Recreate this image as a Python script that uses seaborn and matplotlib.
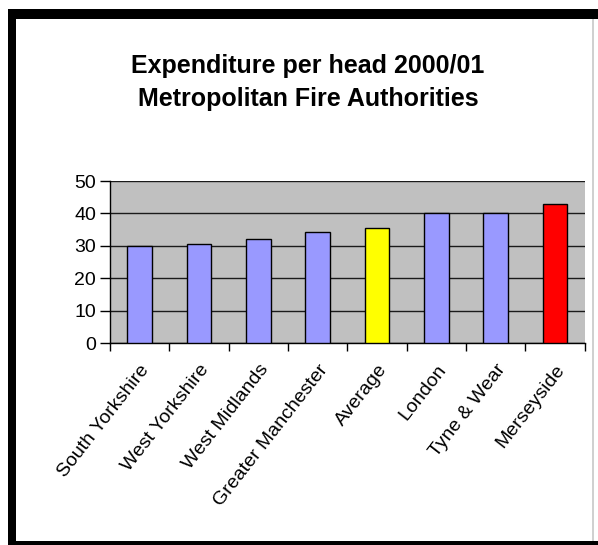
import matplotlib
matplotlib.use("Agg")
import matplotlib.pyplot as plt
import seaborn as sns
import pandas as pd
from matplotlib import font_manager
from matplotlib.patches import Rectangle
from matplotlib.ticker import FixedLocator

categories = ["South Yorkshire", "West Yorkshire", "West Midlands", "Greater Manchester",
              "Average", "London", "Tyne & Wear", "Merseyside"]
values = [30.0, 30.6, 32.1, 34.3, 35.5, 40.1, 40.1, 42.8]
bar_colors = ["#9999FF", "#9999FF", "#9999FF", "#9999FF", "#FFFF00", "#9999FF", "#9999FF", "#FF0000"]
y_ticks = [0, 10, 20, 30, 40, 50]
title_lines = ["Expenditure per head 2000/01", "Metropolitan Fire Authorities"]

sns.set_theme(style="white")
plt.rcParams['font.family'] = ['Liberation Sans', 'DejaVu Sans']
plt.rcParams['text.color'] = 'black'
plt.rcParams['xtick.color'] = 'black'
plt.rcParams['ytick.color'] = 'black'
plt.rcParams['axes.labelcolor'] = 'black'

names = {f.name for f in font_manager.fontManager.ttflist}
if "Liberation Sans Narrow" in names:
    title_family = ["Liberation Sans Narrow", "Liberation Sans"]
    title_size = 22
else:
    title_family = ["Liberation Sans", "DejaVu Sans"]
    title_size = 18

W, H = 598, 545
fig = plt.figure(figsize=(W / 100, H / 100), dpi=100)
fig.patch.set_facecolor("white")

def px_rect(x0, y0, x1, y1, color):
    fig.patches.append(Rectangle((x0 / W, 1 - y1 / H), (x1 - x0) / W, (y1 - y0) / H,
                                 transform=fig.transFigure, facecolor=color,
                                 edgecolor="none", zorder=0))

# frame around the slide
px_rect(8, 9, 598, 19, "black")
px_rect(8, 9, 16, 545, "black")
px_rect(8, 541, 598, 545, "black")
px_rect(592, 19, 594, 541, "#d0d0d0")

ax = fig.add_axes([110 / W, 1 - 343.3 / H, (584.7 - 110) / W, (343.3 - 181) / H])
ax.set_facecolor("#C0C0C0")

df = pd.DataFrame({"cat": categories, "val": values})
sns.barplot(data=df, x="cat", y="val", hue="cat", palette=bar_colors, legend=False,
            width=0.42, edgecolor="black", linewidth=1, saturation=1, ax=ax, zorder=3)

n = len(categories)
ax.set_xlim(-0.5, n - 0.5)
ax.set_ylim(0, 50)
ax.set_yticks(y_ticks)
ax.set_yticklabels([str(v) for v in y_ticks], fontsize=14, color="black")
ax.yaxis.grid(True, color="#1a1a1a", linewidth=1)
ax.set_axisbelow(True)
ax.tick_params(axis="y", direction="out", length=7, width=1, color="black", pad=3, left=True)

ax.set_xticks(range(n))
ax.set_xticklabels(categories, fontsize=14, rotation=52, ha="right", rotation_mode="anchor",
                   color="black")
ax.tick_params(axis="x", which="major", length=0, pad=13)
ax.xaxis.set_minor_locator(FixedLocator([i - 0.5 for i in range(n + 1)]))
ax.tick_params(axis="x", which="minor", direction="out", length=6, width=1, color="black", bottom=True)

ax.set_xlabel("")
ax.set_ylabel("")
for s in ["top", "right"]:
    ax.spines[s].set_visible(False)
for s in ["left", "bottom"]:
    ax.spines[s].set_color("black")
    ax.spines[s].set_linewidth(1)

fig.text(308 / W, 1 - 66 / H, title_lines[0], ha="center", va="center",
         fontsize=title_size, fontweight="bold", family=title_family, color="black")
fig.text(308 / W, 1 - 99 / H, title_lines[1], ha="center", va="center",
         fontsize=title_size, fontweight="bold", family=title_family, color="black")

fig.savefig("out.png", dpi=100, facecolor="white")
